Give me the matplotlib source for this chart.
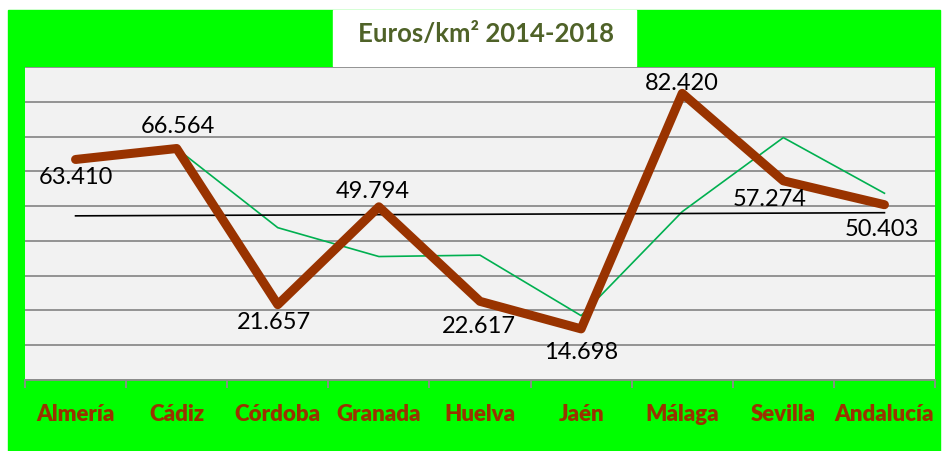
import matplotlib
matplotlib.use("Agg")
import matplotlib.pyplot as plt
from matplotlib.patches import Rectangle
import numpy as np

# data
provincias = ["Almería", "Cádiz", "Córdoba", "Granada", "Huelva",
              "Jaén", "Málaga", "Sevilla", "Andalucía"]
euros_km2 = [63.410, 66.564, 21.657, 49.794, 22.617, 14.698, 82.420, 57.274, 50.403]
serie_verde = [np.nan, 66.564, 43.8, 35.5, 35.9, 18.5, 48.4, 69.7, 53.7]
tendencia = [47.2, 48.1]  # trend line ends, Almería -> Andalucía
etiquetas = ["63.410", "66.564", "21.657", "49.794", "22.617",
             "14.698", "82.420", "57.274", "50.403"]

# label offsets in pixels (dx, dy), dy positive = down
offs = [(0, 18.5), (1, -22.5), (-4, 18), (-6, -15), (-1, 25),
        (0, 24), (-0.5, -10), (-14, 19), (-3, 25)]

W, H = 944, 451
plt.rcParams['font.family'] = ['Lato', 'DejaVu Sans']

fig = plt.figure(figsize=(W / 100, H / 100), dpi=100, facecolor='white')

# green frame and white title box (behind the axes)
fig.patches.append(Rectangle((8 / W, 0), (940 - 8) / W, (H - 10) / H,
                             transform=fig.transFigure, color='#00FF00', zorder=-2))
fig.patches.append(Rectangle((333 / W, (H - 66) / H), 303 / W, 56 / H,
                             transform=fig.transFigure, color='white', zorder=-1))
fig.text(486 / W, (H - 42) / H, "Euros/km² 2014-2018", ha='center', va='baseline',
         fontsize=18.5, fontweight='bold', color='#4F6228')

ax = fig.add_axes([25 / W, (H - 380) / H, 910 / W, 313 / H])
ax.set_facecolor('#F2F2F2')

x = np.arange(len(provincias))
ax.plot(x, serie_verde, color='#00B050', lw=1.2, zorder=3)
ax.plot([x[0], x[-1]], tendencia, color='black', lw=1.2, zorder=3)
ax.plot(x, euros_km2, color='#993300', lw=6.5, solid_capstyle='round',
        solid_joinstyle='round', zorder=4)

for xi, yi, lab, (dx, dy) in zip(x, euros_km2, etiquetas, offs):
    ax.annotate(lab, (xi, yi), xytext=(dx * 0.72, -dy * 0.72), textcoords='offset points',
                ha='center', va='center', fontsize=17, color='black', zorder=5)

ax.set_xlim(-0.5, len(provincias) - 0.5)
ax.set_ylim(0, 90)
ax.set_yticks(np.arange(0, 91, 10))
ax.yaxis.grid(True, color='#8C8C8C', lw=1.3)
ax.set_axisbelow(True)
ax.tick_params(axis='y', left=False, labelleft=False)

ax.set_xticks(x)
ax.set_xticklabels(provincias, fontsize=16, fontweight='heavy', color='#993300')
ax.set_xticks(np.arange(-0.5, len(provincias), 1), minor=True)
ax.tick_params(axis='x', which='major', length=0, pad=17)
ax.tick_params(axis='x', which='minor', length=6, width=1.3, color='#8C8C8C', direction='out')

for s in ['left', 'right', 'top']:
    ax.spines[s].set_visible(False)
ax.spines['bottom'].set_color('#8C8C8C')
ax.spines['bottom'].set_linewidth(1.3)

fig.savefig("out.png", dpi=100, facecolor=fig.get_facecolor())
